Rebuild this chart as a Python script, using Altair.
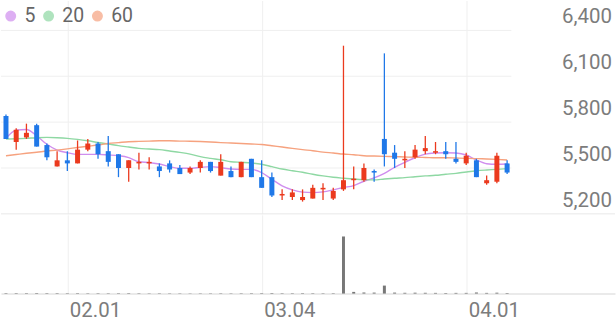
import altair as alt
import pandas as pd

# ---- data ----
dates = ["01.24", "01.25", "01.26", "01.29", "01.30", "01.31", "02.01", "02.02", "02.05", "02.06",
         "02.07", "02.08", "02.13", "02.14", "02.15", "02.16", "02.19", "02.20", "02.21", "02.22",
         "02.23", "02.26", "02.27", "02.28", "02.29", "03.04", "03.05", "03.06", "03.07", "03.08",
         "03.11", "03.12", "03.13", "03.14", "03.15", "03.18", "03.19", "03.20", "03.21", "03.22",
         "03.25", "03.26", "03.27", "03.28", "03.29", "04.01", "04.02", "04.03", "04.04", "04.05"]
open_ = [5840, 5670, 5700, 5780, 5650, 5510, 5550, 5530, 5620, 5660,
         5610, 5590, 5500, 5530, 5530, 5510, 5530, 5500, 5470, 5500,
         5540, 5450, 5480, 5440, 5560, 5440, 5440, 5320, 5310, 5290,
         5300, 5360, 5300, 5360, 5420, 5420, 5480, 5690, 5600, 5550,
         5570, 5610, 5600, 5610, 5560, 5530, 5550, 5400, 5410, 5530]
high = [5850, 5760, 5790, 5790, 5660, 5610, 5610, 5680, 5690, 5670,
        5710, 5590, 5550, 5600, 5570, 5530, 5550, 5520, 5510, 5550,
        5540, 5590, 5510, 5540, 5560, 5550, 5470, 5360, 5360, 5360,
        5390, 5400, 5370, 6300, 5510, 5530, 5490, 6250, 5650, 5610,
        5650, 5710, 5670, 5670, 5670, 5600, 5560, 5450, 5600, 5550]
low = [5690, 5620, 5690, 5640, 5550, 5510, 5480, 5530, 5610, 5560,
       5510, 5440, 5410, 5490, 5490, 5440, 5470, 5460, 5460, 5470,
       5470, 5450, 5440, 5440, 5440, 5370, 5310, 5290, 5290, 5280,
       5300, 5290, 5290, 5350, 5360, 5410, 5410, 5510, 5500, 5500,
       5560, 5590, 5590, 5560, 5530, 5520, 5440, 5390, 5400, 5460]
close = [5690, 5750, 5730, 5640, 5570, 5550, 5530, 5620, 5660, 5590,
         5540, 5500, 5550, 5540, 5540, 5480, 5490, 5460, 5500, 5540,
         5480, 5540, 5440, 5540, 5440, 5370, 5320, 5330, 5340, 5310,
         5370, 5370, 5350, 5420, 5430, 5500, 5470, 5590, 5560, 5560,
         5620, 5630, 5610, 5590, 5540, 5580, 5440, 5420, 5580, 5470]
volume = [70, 60, 50, 60, 50, 50, 45, 50, 40, 45,
          40, 45, 50, 40, 35, 40, 35, 35, 30, 35,
          35, 40, 35, 40, 45, 50, 60, 45, 45, 50,
          45, 40, 45, 5800, 170, 110, 100, 810, 100, 80,
          90, 80, 70, 60, 70, 70, 110, 70, 90, 60]
ma5 = [5694, 5748, 5752, 5711, 5655, 5617, 5600, 5589, 5589, 5589,
       5585, 5580, 5568, 5541, 5535, 5526, 5509, 5498, 5498, 5504,
       5509, 5502, 5493, 5491, 5491, 5470, 5426, 5383, 5357, 5342,
       5339, 5344, 5357, 5372, 5385, 5413, 5435, 5465, 5504, 5537,
       5567, 5591, 5598, 5600, 5598, 5585, 5552, 5528, 5524, 5526]
ma20 = [5689, 5691, 5694, 5698, 5700, 5698, 5694, 5687, 5678, 5667,
        5657, 5646, 5637, 5628, 5624, 5620, 5611, 5602, 5591, 5574,
        5563, 5554, 5541, 5537, 5533, 5524, 5509, 5493, 5482, 5472,
        5459, 5448, 5439, 5433, 5428, 5424, 5422, 5428, 5433, 5437,
        5443, 5448, 5452, 5459, 5465, 5474, 5482, 5487, 5491, 5496]
ma60 = [5580, 5588, 5596, 5603, 5611, 5617, 5625, 5634, 5642, 5650,
        5660, 5666, 5672, 5674, 5676, 5678, 5678, 5676, 5675, 5673,
        5670, 5666, 5663, 5660, 5657, 5654, 5645, 5637, 5628, 5620,
        5613, 5604, 5598, 5591, 5587, 5580, 5578, 5576, 5574, 5572,
        5570, 5569, 5567, 5567, 5565, 5563, 5561, 5559, 5556, 5552]
ma_names = ["5", "20", "60"]
price_ticks = [5200, 5500, 5800, 6100, 6400]
date_ticks = ["02.01", "03.04", "04.01"]

# ---- styling ----
RED = "#EB3A1E"
BLUE = "#1F78E8"
MA_COLORS = ["#D08EEE", "#8ED8A3", "#F6A27F"]
GRID = "#EFEFEF"
TEXT = "#7C7C7C"
FONT = "Roboto"
W = 616
H_PRICE = 214
H_VOL = 79

n = len(dates)
idx = list(range(n))
candles = pd.DataFrame({"i": idx, "date": dates, "open": open_, "high": high,
                        "low": low, "close": close, "volume": volume})
ma_rows = []
for name, vals in zip(ma_names, [ma5, ma20, ma60]):
    for i, v in enumerate(vals):
        ma_rows.append({"i": i, "ma": name, "value": v})
mas = pd.DataFrame(ma_rows)

tick_idx = [dates.index(d) for d in date_ticks]
label_expr = " : ".join(f"datum.value == {i} ? '{d}'" for i, d in zip(tick_idx, date_ticks)) + " : ''"

xdom = [-0.487, 59.55]
xscale = alt.Scale(domain=xdom, nice=False, zero=False, padding=0)
yscale = alt.Scale(domain=[5200, 6595.65], nice=False, zero=False)

x_price = alt.X("i:Q", scale=xscale, title=None,
                axis=alt.Axis(values=tick_idx, grid=True, gridColor=GRID, labels=False,
                              ticks=False, domain=False))
up_cond = alt.condition("datum.close >= datum.open", alt.value(RED), alt.value(BLUE))
ma_scale = alt.Scale(domain=ma_names, range=MA_COLORS)
ma_legend = alt.Legend(title=None, orient="none", legendX=0, legendY=5.5,
                       direction="horizontal", symbolType="circle",
                       symbolSize=90, labelFontSize=19.5,
                       labelColor="#666666", labelFont=FONT, labelOffset=4,
                       columnPadding=3)

hgrid = alt.Chart(pd.DataFrame({"p": price_ticks[1:]})).mark_rule(color=GRID, strokeWidth=1).encode(
    y=alt.Y("p:Q", scale=yscale), x=alt.value(0), x2=alt.value(512))
sep = alt.Chart(pd.DataFrame({"p": price_ticks[:1]})).mark_rule(color="#E8E8E8", strokeWidth=1).encode(
    y=alt.Y("p:Q", scale=yscale), x=alt.value(0), x2=alt.value(W))

# legend owner (filled circles); no rows are drawn by this layer
legend_layer = alt.Chart(mas).mark_circle(size=90).encode(
    x=x_price,
    y=alt.Y("value:Q", scale=yscale),
    color=alt.Color("ma:N", scale=ma_scale, legend=ma_legend),
).transform_filter("false")

lines = alt.Chart(mas).mark_line(strokeWidth=1.4, interpolate="monotone").encode(
    x=x_price,
    y=alt.Y("value:Q", scale=yscale, title=None,
            axis=alt.Axis(orient="right", values=price_ticks, format=",.0f", grid=False,
                          domain=False, ticks=False, labelAlign="right", labelBaseline="middle",
                          labelOffset=-13.5, labelPadding=0, offset=-3.5, labelFontSize=20.5,
                          labelColor=TEXT, labelFont=FONT)),
    color=alt.Color("ma:N", scale=ma_scale, legend=ma_legend),
)
wicks = alt.Chart(candles).mark_rule(strokeWidth=1.3).encode(
    x=x_price, y=alt.Y("low:Q", scale=yscale), y2="high:Q", color=up_cond)
bodies = alt.Chart(candles).mark_bar(width=5).encode(
    x=x_price, y=alt.Y("open:Q", scale=yscale), y2="close:Q", color=up_cond)

price = alt.layer(hgrid, sep, legend_layer, lines, wicks, bodies).properties(width=W, height=H_PRICE)

vol = alt.Chart(candles).mark_bar(width=3, color="#777777").encode(
    x=alt.X("i:Q", scale=xscale, title=None,
            axis=alt.Axis(values=tick_idx, grid=True, gridColor=GRID, labelExpr=label_expr,
                          ticks=False, domain=True, domainColor="#E3E3E3", domainWidth=1.5,
                          labelAlign="left", labelBaseline="top", labelPadding=7, labelOffset=2,
                          labelFontSize=20.5, labelColor=TEXT, labelFont=FONT)),
    y=alt.Y("volume:Q", scale=alt.Scale(domain=[0, 8000], nice=False), axis=None),
).properties(width=W, height=H_VOL)

chart = alt.vconcat(price, vol, spacing=0).properties(padding=0).configure_view(
    stroke=None).configure_concat(spacing=0)

chart.save("out.html", embed_options={"renderer": "svg", "actions": False})
